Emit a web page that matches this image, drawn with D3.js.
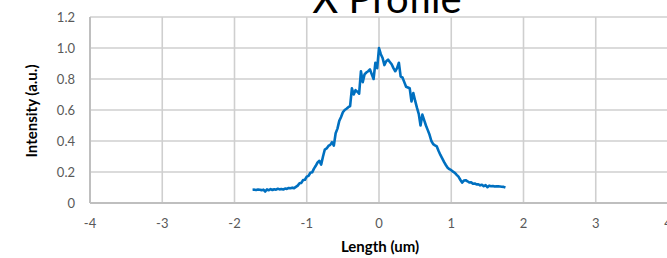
<!DOCTYPE html>
<html lang="en">
<head>
    <meta charset="UTF-8">
    <title>X Profile</title>
    <script src="https://d3js.org/d3.v7.min.js"></script>
    <style>
        body { margin: 0; background: #fff; }
        svg { display: block; font-family: Lato, "Open Sans", sans-serif; }
    </style>
</head>
<body>
    <svg></svg>
    <script>
        const xTicks = [-4, -3, -2, -1, 0, 1, 2, 3, 4];
        const yTicks = [0, 0.2, 0.4, 0.6, 0.8, 1.0, 1.2];

        const lengthUm = [
            -1.750, -1.725, -1.700, -1.675, -1.650, -1.625, -1.600, -1.575, -1.550, -1.525,
            -1.500, -1.475, -1.450, -1.425, -1.400, -1.375, -1.350, -1.325, -1.300, -1.275,
            -1.250, -1.225, -1.200, -1.175, -1.150, -1.125, -1.100, -1.075, -1.050, -1.025,
            -1.000, -0.975, -0.950, -0.925, -0.900, -0.875, -0.850, -0.825, -0.800, -0.775,
            -0.750, -0.725, -0.700, -0.675, -0.650, -0.625, -0.600, -0.575, -0.550, -0.525,
            -0.500, -0.475, -0.450, -0.425, -0.400, -0.375, -0.350, -0.325, -0.300, -0.275,
            -0.250, -0.225, -0.200, -0.175, -0.150, -0.125, -0.100, -0.075, -0.050, -0.025,
            0.000, 0.025, 0.050, 0.075, 0.100, 0.125, 0.150, 0.175, 0.200, 0.225,
            0.250, 0.275, 0.300, 0.325, 0.350, 0.375, 0.400, 0.425, 0.450, 0.475,
            0.500, 0.525, 0.550, 0.575, 0.600, 0.625, 0.650, 0.675, 0.700, 0.725,
            0.750, 0.775, 0.800, 0.825, 0.850, 0.875, 0.900, 0.925, 0.950, 0.975,
            1.000, 1.025, 1.050, 1.075, 1.100, 1.125, 1.150, 1.175, 1.200, 1.225,
            1.250, 1.275, 1.300, 1.325, 1.350, 1.375, 1.400, 1.425, 1.450, 1.475,
            1.500, 1.525, 1.550, 1.575, 1.600, 1.625, 1.650, 1.675, 1.700, 1.725,
            1.750
        ];

        const intensity = [
            0.085, 0.086, 0.084, 0.087, 0.085, 0.083, 0.086, 0.074, 0.088, 0.082,
            0.090, 0.084, 0.089, 0.086, 0.092, 0.088, 0.090, 0.087, 0.093, 0.091,
            0.097, 0.095, 0.099, 0.096, 0.104, 0.112, 0.128, 0.130, 0.148, 0.150,
            0.170, 0.175, 0.195, 0.198, 0.222, 0.240, 0.262, 0.272, 0.248, 0.300,
            0.345, 0.352, 0.368, 0.375, 0.392, 0.370, 0.450, 0.480, 0.530, 0.555,
            0.585, 0.600, 0.608, 0.618, 0.625, 0.740, 0.700, 0.728, 0.718, 0.705,
            0.850, 0.780, 0.830, 0.842, 0.850, 0.862, 0.830, 0.800, 0.905, 0.870,
            1.000, 0.960, 0.935, 0.890, 0.915, 0.925, 0.910, 0.895, 0.870, 0.850,
            0.870, 0.905, 0.815, 0.810, 0.780, 0.750, 0.745, 0.740, 0.655, 0.710,
            0.660, 0.615, 0.575, 0.500, 0.570, 0.535, 0.500, 0.470, 0.440, 0.400,
            0.380, 0.372, 0.365, 0.335, 0.310, 0.288, 0.265, 0.245, 0.228, 0.218,
            0.212, 0.202, 0.195, 0.182, 0.170, 0.150, 0.132, 0.145, 0.147, 0.140,
            0.132, 0.134, 0.124, 0.126, 0.120, 0.121, 0.114, 0.118, 0.108, 0.115,
            0.102, 0.112, 0.108, 0.110, 0.106, 0.108, 0.107, 0.106, 0.105, 0.104,
            0.100
        ];

        const width = 667, height = 258;
        const margin = {top: 17, right: -1, bottom: 55, left: 90};

        const svg = d3.select("svg")
            .attr("width", width)
            .attr("height", height);

        const x = d3.scaleLinear()
            .domain([-4, 4])
            .range([margin.left, width - margin.right]);
        const y = d3.scaleLinear()
            .domain([0, 1.2])
            .range([height - margin.bottom, margin.top]);

        // gridlines
        svg.append("g")
            .selectAll("line.h")
            .data(yTicks.filter(d => d > 0))
            .join("line")
            .attr("x1", x(-4)).attr("x2", x(4))
            .attr("y1", d => y(d)).attr("y2", d => y(d))
            .attr("stroke", "#cfcfcf")
            .attr("stroke-width", 1.6);

        svg.append("g")
            .selectAll("line.v")
            .data(xTicks.filter(d => d > -4))
            .join("line")
            .attr("x1", d => x(d)).attr("x2", d => x(d))
            .attr("y1", y(0)).attr("y2", y(1.2))
            .attr("stroke", "#cfcfcf")
            .attr("stroke-width", 1.6);

        // axis lines
        svg.append("line")
            .attr("x1", x(-4)).attr("x2", x(-4))
            .attr("y1", y(0)).attr("y2", y(1.2))
            .attr("stroke", "#bfbfbf").attr("stroke-width", 2);
        svg.append("line")
            .attr("x1", x(-4)).attr("x2", x(4))
            .attr("y1", y(0)).attr("y2", y(0))
            .attr("stroke", "#bfbfbf").attr("stroke-width", 2);

        // tick labels
        svg.append("g")
            .selectAll("text")
            .data(yTicks)
            .join("text")
            .attr("x", 75)
            .attr("y", d => y(d))
            .attr("dy", "0.35em")
            .attr("text-anchor", "end")
            .attr("font-size", 13)
            .attr("fill", "#595959")
            .text(d => d === 0 ? "0" : d.toFixed(1));

        svg.append("g")
            .selectAll("text")
            .data(xTicks)
            .join("text")
            .attr("x", d => x(d))
            .attr("y", 228)
            .attr("text-anchor", "middle")
            .attr("font-size", 13)
            .attr("fill", "#595959")
            .text(d => d);

        // axis titles
        svg.append("text")
            .attr("transform", "translate(37,111) rotate(-90)")
            .attr("text-anchor", "middle")
            .attr("font-size", 15)
            .attr("font-weight", "bold")
            .attr("fill", "#000")
            .text("Intensity (a.u.)");

        svg.append("text")
            .attr("x", 380)
            .attr("y", 252)
            .attr("text-anchor", "middle")
            .attr("font-size", 15)
            .attr("font-weight", "bold")
            .attr("fill", "#000")
            .text("Length (um)");

        // title (cut off at the top)
        svg.append("text")
            .attr("x", 387)
            .attr("y", 13)
            .attr("text-anchor", "middle")
            .attr("font-size", 40)
            .attr("fill", "#000")
            .text("X Profile");

        // profile line
        const line = d3.line()
            .x((d, i) => x(lengthUm[i]))
            .y(d => y(d));

        svg.append("path")
            .datum(intensity)
            .attr("fill", "none")
            .attr("stroke", "#0070c0")
            .attr("stroke-width", 2.6)
            .attr("stroke-linejoin", "round")
            .attr("d", line);
    </script>
</body>
</html>
